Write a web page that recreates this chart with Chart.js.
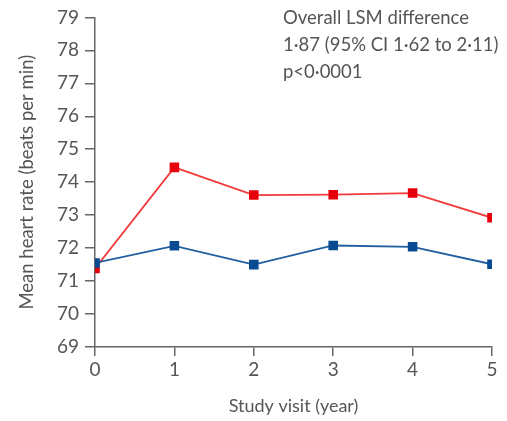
<!DOCTYPE html>
<html>
<head>
<meta charset="utf-8">
<script src="https://cdn.jsdelivr.net/npm/chart.js@4/dist/chart.umd.min.js"></script>
<style>
  html, body { margin: 0; padding: 0; background: #fff; }
  #wrap { width: 507px; height: 421px; }
</style>
</head>
<body>
<div id="wrap"><canvas id="c" width="507" height="421"></canvas></div>
<script>
// Study visits (years) and mean heart rate per group
const visits = [0, 1, 2, 3, 4, 5];
const redRate = [71.38, 74.45, 73.61, 73.62, 73.67, 72.92];
const blueRate = [71.55, 72.07, 71.50, 72.08, 72.04, 71.51];
const yTicks = [69, 70, 71, 72, 73, 74, 75, 76, 77, 78, 79];
const noteLines = ['Overall LSM difference', '1·87 (95% CI 1·62 to 2·11)', 'p<0·0001'];

const FONT = 'Lato, "Open Sans", sans-serif';
const TEXT = '#555';
const AXIS = '#666';

const toPoints = (ys) => visits.map((x, i) => ({ x, y: ys[i] }));

// Annotation block in the upper right of the plot
const notePlugin = {
  id: 'note',
  afterDraw(chart) {
    const ctx = chart.ctx;
    ctx.save();
    ctx.fillStyle = TEXT;
    ctx.font = '18.5px ' + FONT;
    ctx.textBaseline = 'middle';
    ctx.textAlign = 'left';
    noteLines.forEach((t, i) => ctx.fillText(t, 283, 18 + i * 27));
    ctx.restore();
  }
};

new Chart(document.getElementById('c'), {
  type: 'line',
  data: {
    datasets: [
      {
        data: toPoints(redRate),
        order: 1, // drawn underneath the blue series
        borderColor: '#f23c3c',
        backgroundColor: '#e6000a',
        pointBorderColor: '#e6000a',
        borderWidth: 1.8,
        pointStyle: 'rect',
        pointRadius: 5.5,
        pointHoverRadius: 5.5,
        tension: 0
      },
      {
        data: toPoints(blueRate),
        order: 0,
        borderColor: '#1f5fa0',
        backgroundColor: '#0a4a92',
        pointBorderColor: '#0a4a92',
        borderWidth: 1.8,
        pointStyle: 'rect',
        pointRadius: 5.5,
        pointHoverRadius: 5.5,
        tension: 0
      }
    ]
  },
  options: {
    responsive: false,
    animation: false,
    layout: { padding: { left: 0, right: 15, top: 17, bottom: 0 } },
    plugins: { legend: { display: false }, tooltip: { enabled: false } },
    scales: {
      x: {
        type: 'linear',
        min: 0,
        max: 5,
        afterBuildTicks(scale) { scale.ticks = visits.map(v => ({ value: v })); },
        afterFit(scale) { scale.height = 74; },
        grid: { drawOnChartArea: false, color: AXIS, tickLength: 9, lineWidth: 1.5 },
        border: { display: true, color: AXIS, width: 1.5 },
        ticks: { color: TEXT, font: { family: FONT, size: 19 }, padding: 2 },
        title: { display: true, text: 'Study visit (year)', color: TEXT, font: { family: FONT, size: 18 }, padding: { top: 2 } }
      },
      y: {
        min: 69,
        max: 79,
        afterBuildTicks(scale) { scale.ticks = yTicks.map(v => ({ value: v })); },
        afterFit(scale) { scale.width = 95; },
        grid: { drawOnChartArea: false, color: AXIS, tickLength: 10, lineWidth: 1.5 },
        border: { display: true, color: AXIS, width: 1.5 },
        ticks: { color: TEXT, font: { family: FONT, size: 19 }, padding: 6 },
        title: { display: true, text: 'Mean heart rate (beats per min)', color: TEXT, font: { family: FONT, size: 18.5 }, padding: { top: 16, bottom: 0 } }
      }
    }
  },
  plugins: [notePlugin]
});
</script>
</body>
</html>
